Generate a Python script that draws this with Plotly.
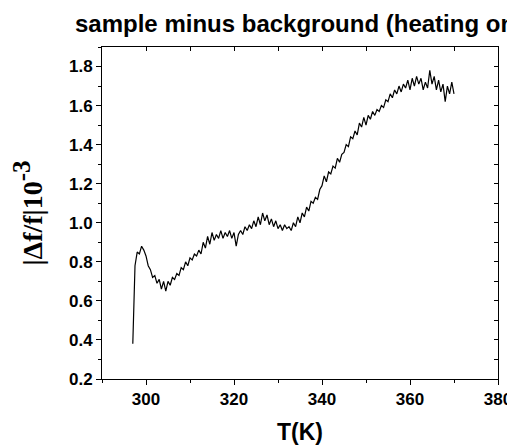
import plotly.graph_objects as go

# temperature (K) and |df/f| (x 1e-3)
temp_k = [
    297.0, 297.2, 297.5, 298.0, 298.5, 299.0, 299.5, 300.0, 300.5, 301.0,
    301.5, 302.0, 302.5, 303.0, 303.5, 304.0, 304.5, 305.0, 305.5, 306.0,
    306.5, 307.0, 307.5, 308.0, 308.5, 309.0, 309.5, 310.0, 310.5, 311.0,
    311.5, 312.0, 312.5, 313.0, 313.5, 314.0, 314.5, 315.0, 315.5, 316.0,
    316.5, 317.0, 317.5, 318.0, 318.5, 319.0, 319.5, 320.0, 320.5, 321.0,
    321.5, 322.0, 322.5, 323.0, 323.5, 324.0, 324.5, 325.0, 325.5, 326.0,
    326.5, 327.0, 327.5, 328.0, 328.5, 329.0, 329.5, 330.0, 330.5, 331.0,
    331.5, 332.0, 332.5, 333.0, 333.5, 334.0, 334.5, 335.0, 335.5, 336.0,
    336.5, 337.0, 337.5, 338.0, 338.5, 339.0, 339.5, 340.0, 340.5, 341.0,
    341.5, 342.0, 342.5, 343.0, 343.5, 344.0, 344.5, 345.0, 345.5, 346.0,
    346.5, 347.0, 347.5, 348.0, 348.5, 349.0, 349.5, 350.0, 350.5, 351.0,
    351.5, 352.0, 352.5, 353.0, 353.5, 354.0, 354.5, 355.0, 355.5, 356.0,
    356.5, 357.0, 357.5, 358.0, 358.5, 359.0, 359.5, 360.0, 360.5, 361.0,
    361.5, 362.0, 362.5, 363.0, 363.5, 364.0, 364.5, 365.0, 365.5, 366.0,
    366.5, 367.0, 367.5, 368.0, 368.5, 369.0, 369.5, 370.0,
]
df_f = [
    0.38, 0.62, 0.78, 0.85, 0.84, 0.88, 0.86, 0.83, 0.78, 0.76,
    0.72, 0.73, 0.69, 0.71, 0.66, 0.70, 0.65, 0.70, 0.68, 0.72,
    0.71, 0.74, 0.73, 0.77, 0.76, 0.80, 0.78, 0.82, 0.81, 0.84,
    0.83, 0.86, 0.84, 0.90, 0.87, 0.93, 0.89, 0.95, 0.91, 0.94,
    0.92, 0.96, 0.92, 0.95, 0.93, 0.96, 0.92, 0.95, 0.88, 0.94,
    0.96, 0.94, 0.98, 0.96, 0.99, 0.97, 1.01, 0.98, 1.03, 0.99,
    1.05, 1.01, 1.04, 0.99, 1.02, 0.98, 1.01, 0.97, 0.99, 0.96,
    0.99, 0.97, 0.98, 0.96, 1.00, 0.98, 1.03, 1.00, 1.05, 1.03,
    1.08, 1.06, 1.11, 1.10, 1.13, 1.12, 1.17, 1.19, 1.24, 1.21,
    1.26, 1.25, 1.29, 1.28, 1.33, 1.31, 1.35, 1.36, 1.40, 1.39,
    1.44, 1.43, 1.47, 1.45, 1.51, 1.49, 1.54, 1.50, 1.55, 1.53,
    1.57, 1.55, 1.58, 1.57, 1.60, 1.59, 1.63, 1.62, 1.66, 1.64,
    1.68, 1.66, 1.70, 1.67, 1.71, 1.69, 1.73, 1.68, 1.74, 1.70,
    1.75, 1.71, 1.74, 1.68, 1.72, 1.69, 1.78, 1.71, 1.75, 1.68,
    1.73, 1.67, 1.71, 1.62, 1.70, 1.66, 1.72, 1.66,
]

x_range = [290, 380]
y_range = [0.2, 1.9]

fig = go.Figure()
fig.add_trace(go.Scatter(x=temp_k, y=df_f, mode='lines',
                         line=dict(color='black', width=1.2), showlegend=False))
# same data on the top/right axes, invisible, just so those axes get drawn
fig.add_trace(go.Scatter(x=temp_k, y=df_f, mode='lines', xaxis='x2', yaxis='y2',
                         opacity=0, hoverinfo='skip', showlegend=False))

tickfont = dict(family='Liberation Sans, Arial', size=17, color='black', weight='bold')

# page body adds an 8px margin, so the figure is 8px smaller than the window
W, H = 507, 437

fig.update_layout(
    width=W, height=H,
    margin=dict(l=94, r=17, t=39, b=66),
    paper_bgcolor='white', plot_bgcolor='white',
    title=dict(text='<b>sample minus background (heating on)</b>',
               x=67/W, xanchor='left', y=1-16/H, yanchor='middle',
               font=dict(family='Liberation Sans, Arial', size=24, color='black')),
    xaxis=dict(range=x_range, dtick=20, ticks='outside', ticklen=5, tickwidth=1,
               tickcolor='black', showline=True, linecolor='black', linewidth=1,
               showgrid=False, zeroline=False, tickfont=tickfont, automargin=False,
               minor=dict(ticks='outside', dtick=10, ticklen=3, tickcolor='black'),
               title=dict(text='<b>T(K)</b>', standoff=18,
                          font=dict(family='Liberation Sans, Arial', size=23, color='black'))),
    yaxis=dict(range=y_range, tick0=0.2, dtick=0.2, tickformat='.1f', ticks='outside',
               ticklen=5, tickwidth=1, tickcolor='black', showline=True,
               linecolor='black', linewidth=1, showgrid=False, zeroline=False,
               tickfont=tickfont, automargin=False,
               minor=dict(ticks='outside', dtick=0.1, tick0=0.2, ticklen=3, tickcolor='black'),
               title=dict(text='<b>|Δf/f|10<sup><span style="font-size:25px">-3</span></sup></b>',
                          standoff=20,
                          font=dict(family='Liberation Serif, Times New Roman', size=28,
                                    color='black'))),
    xaxis2=dict(range=x_range, overlaying='x', side='top', anchor='y', dtick=10,
                ticks='inside', ticklen=4, tickcolor='black', showticklabels=False,
                showline=True, linecolor='black', linewidth=1, showgrid=False,
                zeroline=False, automargin=False),
    yaxis2=dict(range=y_range, overlaying='y', side='right', anchor='x', tick0=0.2,
                dtick=0.1, ticks='inside', ticklen=4, tickcolor='black',
                showticklabels=False, showline=True, linecolor='black', linewidth=1,
                showgrid=False, zeroline=False, automargin=False),
)

fig.write_html("out.html")
